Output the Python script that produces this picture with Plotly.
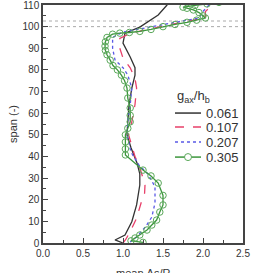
import plotly.graph_objects as go

# ---- data (x = mean Δs/R, y = span) ----
names = ["0.061", "0.107", "0.207", "0.305"]
legend_title = "g<sub>ax</sub>/h<sub>b</sub>"
x_title = "mean \u0394s/R"
y_title = "span (-)"

span_061 = [0, 1.4, 3.7, 9.8, 17.6, 26.8, 32, 37, 44, 50, 56, 63.8, 71.6, 77.6, 81, 86, 92.4, 97, 99.8, 105.4, 110, 113]
val_061 = [1.0, 0.9, 1.025, 1.11, 1.17, 1.21, 1.21, 1.175, 1.1, 1.05, 1.06, 1.075, 1.11, 1.15, 1.15, 1.09, 1.0, 1.025, 1.21, 1.44, 1.55, 1.6]

span_107 = [0, 1.4, 5.2, 11.5, 19, 23, 26.8, 30, 33.7, 40, 50, 56, 64, 71.6, 76, 81, 85.5, 90, 94.6, 97, 101, 104, 107, 111]
val_107 = [1.0, 1.03, 1.09, 1.17, 1.23, 1.27, 1.275, 1.25, 1.22, 1.15, 1.07, 1.11, 1.15, 1.17, 1.15, 1.09, 1.0, 0.96, 0.96, 1.1, 1.6, 2.03, 2.03, 2.15]

span_207 = [0.5, 2.8, 7.4, 12, 18.5, 26, 32, 36, 42, 50, 56, 63.8, 71.6, 77.6, 81, 84.6, 90, 95, 97.5, 101, 104, 107, 111]
val_207 = [1.09, 1.17, 1.28, 1.36, 1.4, 1.4, 1.31, 1.2, 1.1, 1.05, 1.06, 1.09, 1.11, 1.06, 1.0, 0.9, 0.87, 0.87, 1.0, 1.5, 1.95, 2.0, 2.1]

span_305 = [0.3, 1.0, 2.3, 3.7, 6, 8.3, 10.6, 14.3, 17.6, 22, 27.7, 31, 33.7, 40.7, 43.5, 46.7, 50, 53, 56, 59,
            62.4, 67, 71.6, 75, 77.6, 80, 82, 84.5, 87, 89, 91, 93, 95, 96.5, 97, 97.3, 97.8, 98.7, 100, 101,
            102, 103, 104, 105, 106.5, 107.7, 108.5, 109, 109.8, 110.5, 111.2]
val_305 = [1.25, 1.1, 1.15, 1.21, 1.3, 1.36, 1.42, 1.46, 1.5, 1.5, 1.44, 1.35, 1.25, 1.03, 1.03, 1.03, 1.03, 1.06, 1.09, 1.09,
           1.09, 1.06, 1.05, 1.02, 0.98, 0.93, 0.875, 0.84, 0.8, 0.78, 0.775, 0.78, 0.8, 0.87, 0.96, 1.08, 1.21, 1.35, 1.5, 1.65,
           1.8, 1.92, 2.03, 2.0, 1.95, 1.88, 1.8, 1.75, 1.9, 2.05, 2.2]

ref_spans = [100, 102.6]

x_ticks = [0.0, 0.5, 1.0, 1.5, 2.0, 2.5]
y_ticks = list(range(0, 111, 10))

FONT = "Liberation Sans, Arial, sans-serif"
TXT = "#333333"

styles = [
    dict(color="#333333", dash="solid", marker=False),
    dict(color="#e8406a", dash="dash", marker=False),
    dict(color="#5a5ae6", dash="dot", marker=False),
    dict(color="#3c963c", dash="solid", marker=True),
]
series = [(val_061, span_061), (val_107, span_107), (val_207, span_207), (val_305, span_305)]

fig = go.Figure()

for y0 in ref_spans:
    fig.add_hline(y=y0, line=dict(color="#aaaaaa", width=1, dash="dot"), layer="below")

for name, (xv, yv), st in zip(names, series, styles):
    if st["marker"]:
        fig.add_trace(go.Scatter(x=xv, y=yv, mode="lines+markers", name=name, showlegend=False,
                                 line=dict(color=st["color"], width=1.3),
                                 marker=dict(symbol="circle-open", size=6.5, color="#5aa85a",
                                             line=dict(width=1))))
    else:
        fig.add_trace(go.Scatter(x=xv, y=yv, mode="lines", name=name, showlegend=False,
                                 line=dict(color=st["color"], width=1.3, dash=st["dash"])))

# ---- hand-built legend (compact spacing like the reference) ----
leg_x0, leg_x1, leg_tx = 0.66, 0.79, 0.805
leg_title_y = 0.615
leg_y = [0.546, 0.487, 0.424, 0.361]

fig.add_annotation(x=leg_x0, y=leg_title_y, xref="paper", yref="paper", text=legend_title,
                   showarrow=False, xanchor="left", yanchor="middle",
                   font=dict(family=FONT, size=13, color=TXT))
for name, st, yy in zip(names, styles, leg_y):
    fig.add_shape(type="line", xref="paper", yref="paper", x0=leg_x0, x1=leg_x1, y0=yy, y1=yy,
                  line=dict(color=st["color"], width=1.5, dash=st["dash"]))
    if st["marker"]:
        fig.add_shape(type="circle", xref="paper", yref="paper",
                      xsizemode="pixel", ysizemode="pixel",
                      xanchor=(leg_x0 + leg_x1) / 2, yanchor=yy,
                      x0=-3.5, x1=3.5, y0=-3.5, y1=3.5,
                      line=dict(color="#5aa85a", width=1), fillcolor="white")
    fig.add_annotation(x=leg_tx, y=yy, xref="paper", yref="paper", text=name,
                       showarrow=False, xanchor="left", yanchor="middle",
                       font=dict(family=FONT, size=13, color=TXT))

# x-axis title, sitting low so it is cut by the figure edge as in the reference
fig.add_annotation(x=0.5, y=-0.092, xref="paper", yref="paper", text=x_title,
                   showarrow=False, xanchor="center", yanchor="top",
                   font=dict(family=FONT, size=11, color=TXT))

axis_common = dict(showline=True, linecolor="#444444", linewidth=1.5, mirror=True,
                   ticks="inside", ticklen=5, tickcolor="#444444", tickwidth=1,
                   showgrid=False, zeroline=False, ticklabeloverflow="allow",
                   tickfont=dict(family=FONT, size=10, color=TXT))

fig.update_xaxes(range=[0, 2.5], tickvals=x_ticks, ticktext=[f"{v:.1f}" for v in x_ticks],
                 minor=dict(ticks="inside", dtick=0.25, tick0=0, ticklen=3, tickcolor="#444444"),
                 automargin=False, **axis_common)
fig.update_yaxes(range=[0, 110], tickvals=y_ticks,
                 minor=dict(ticks="inside", dtick=5, tick0=0, ticklen=3, tickcolor="#444444"),
                 title=dict(text=y_title, font=dict(family=FONT, size=11, color=TXT),
                            standoff=3),
                 automargin=False, **axis_common)

fig.update_layout(
    width=255, height=273,
    margin=dict(l=43, r=12, t=5, b=30),
    paper_bgcolor="white", plot_bgcolor="white",
    font=dict(family=FONT, size=12, color=TXT),
    showlegend=False,
)

fig.write_html("out.html")
